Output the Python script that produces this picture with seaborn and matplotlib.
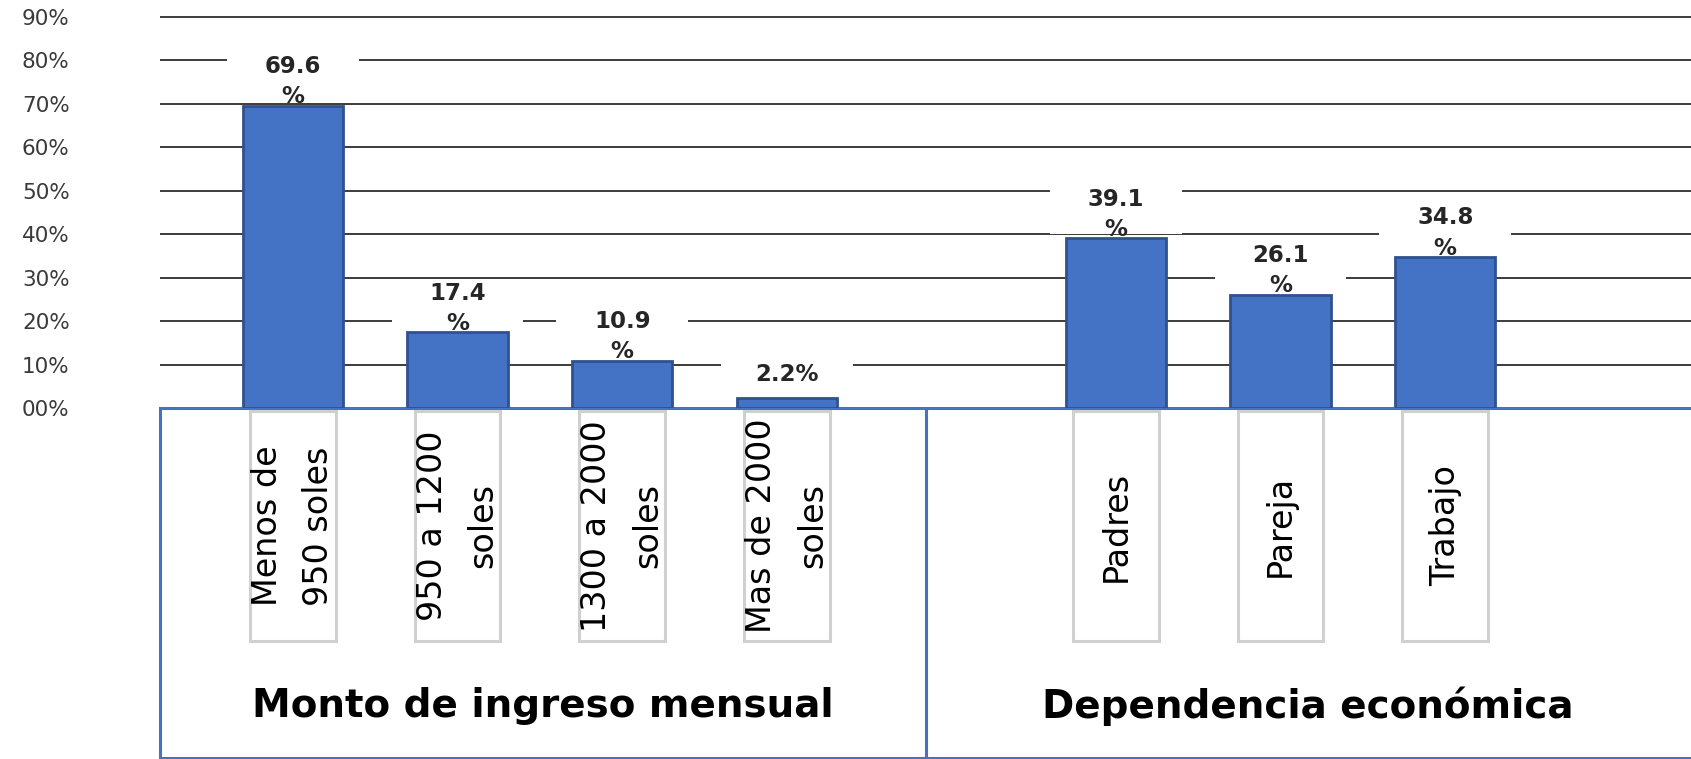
import matplotlib
matplotlib.use("Agg")
import matplotlib.pyplot as plt
from matplotlib.patches import Rectangle
from matplotlib.transforms import blended_transform_factory
import seaborn as sns
import pandas as pd

# ---- data -------------------------------------------------------------
income_cats = ["Menos de\n950 soles", "950 a 1200\nsoles", "1300 a 2000\nsoles", "Mas de 2000\nsoles"]
income_vals = [69.6, 17.4, 10.9, 2.2]
dep_cats = ["Padres", "Pareja", "Trabajo"]
dep_vals = [39.1, 26.1, 34.8]
group_names = ["Monto de ingreso mensual", "Dependencia económica"]
y_ticks = [0, 10, 20, 30, 40, 50, 60, 70, 80, 90]
y_tick_labels = ["00%", "10%", "20%", "30%", "40%", "50%", "60%", "70%", "80%", "90%"]

# ---- style ------------------------------------------------------------
BAR = "#4472C4"
BAR_EDGE = "#2F528F"
AXIS_BLUE = "#4472C4"
GRID = "#1a1a1a"
BOX_GRAY = "#D0D0D0"
TEXT = "#262626"

sns.set_style("white")
plt.rcParams["font.family"] = ["DejaVu Sans"]

W, H = 1691, 759
fig = plt.figure(figsize=(W / 100, H / 100), dpi=100)


def fx(px):
    return px / W


def fy(py):
    return 1 - py / H


# one empty slot separates the two groups of categories
spacer = " "
order = income_cats + [spacer] + dep_cats
df = pd.DataFrame({"cat": income_cats + dep_cats, "val": income_vals + dep_vals})

# plot area: baseline at 408 px, 4.344 px per percentage point
left_px, right_px, base_px = 160, 1691, 408
per_pct = 4.344
y_top = 91.5
slot = 164.6
first_center = 293
x0 = -(first_center - left_px) / slot
xlim = (x0, x0 + (right_px - left_px) / slot)

ax = fig.add_axes([fx(left_px), fy(base_px), fx(right_px) - fx(left_px), y_top * per_pct / H])
sns.barplot(data=df, x="cat", y="val", order=order, color=BAR, saturation=1,
            width=0.61, edgecolor=BAR_EDGE, linewidth=2, errorbar=None,
            zorder=2, ax=ax)
ax.set_xlim(*xlim)
ax.set_ylim(0, y_top)
ax.set_xlabel("")
ax.set_ylabel("")
ax.set_yticks(y_ticks)
ax.set_yticklabels(y_tick_labels)
ax.tick_params(axis="y", length=0, pad=65, labelsize=15.5, labelcolor="#3a3a3a")
ax.tick_params(axis="x", length=0, labelbottom=False)
ax.yaxis.grid(True, color=GRID, linewidth=1.2)
ax.xaxis.grid(False)
ax.set_axisbelow(True)
for s in ax.spines.values():
    s.set_visible(False)
ax.axhline(0, color=AXIS_BLUE, linewidth=2.2, zorder=1.5, clip_on=False)

# value labels with a white backing that breaks the gridlines
for cat, v in zip(df["cat"], df["val"]):
    i = order.index(cat)
    label = f"{v:.1f}\n%" if v >= 10 else f"{v:.1f}%"
    ax.add_patch(Rectangle((i - 0.4, v + 1.0), 0.8, 10.5, facecolor="white",
                           edgecolor="none", zorder=1))
    ax.text(i, v + 5.5, label, ha="center", va="center", fontsize=16.5,
            fontweight="bold", color=TEXT, linespacing=1.4, zorder=3)

# category axis: boxed labels and group headers
ax2 = fig.add_axes([fx(left_px), fy(757.5), fx(right_px) - fx(left_px), (757.5 - base_px) / H])
ax2.set_xlim(*xlim)
ax2.set_ylim(757.5, base_px)
ax2.set_xticks([])
ax2.set_yticks([])
ax2.set_facecolor("none")
for name in ["top", "right"]:
    ax2.spines[name].set_visible(False)
for name in ["left", "bottom"]:
    ax2.spines[name].set_color(AXIS_BLUE)
    ax2.spines[name].set_linewidth(2.2)
ax2.plot([0.5, 0.5], [0, 1], transform=ax2.transAxes, color=AXIS_BLUE,
         linewidth=2.2, clip_on=False)

for cat in income_cats + dep_cats:
    i = order.index(cat)
    ax2.add_patch(Rectangle((i - 0.26, 411), 0.52, 230, facecolor="none",
                            edgecolor=BOX_GRAY, linewidth=2.2))
    ax2.text(i, 526, cat, rotation=90, ha="center", va="center",
             multialignment="center", fontsize=24, linespacing=1.7, color="black")

blend = blended_transform_factory(ax2.transAxes, ax2.transData)
for k, name in enumerate(group_names):
    ax2.text(0.25 + 0.5 * k, 706, name, transform=blend, ha="center", va="center",
             fontsize=28, fontweight="bold", color="black")

fig.savefig("out.png", dpi=100)
